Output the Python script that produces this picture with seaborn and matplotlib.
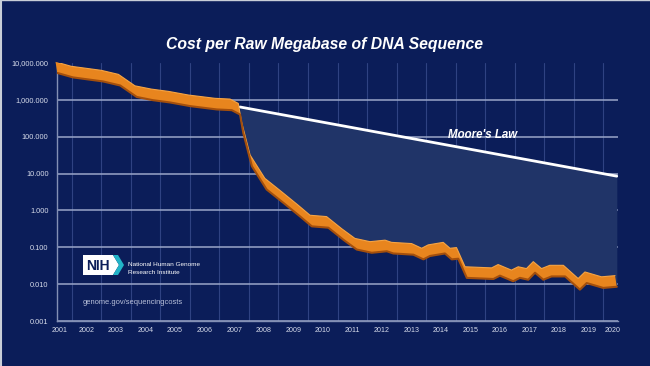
import numpy as np
import matplotlib
matplotlib.use('Agg')
import seaborn as sns
from matplotlib import pyplot as plt
from matplotlib.lines import Line2D
from matplotlib.patches import Polygon

years = [2001.51, 2002.04, 2003.06, 2003.64, 2004.20, 2004.75, 2005.33, 2006.01,
         2006.91, 2007.42, 2007.70, 2007.81, 2008.10, 2008.60, 2009.17, 2009.73,
         2010.13, 2010.69, 2011.20, 2011.65, 2012.16, 2012.67, 2012.89, 2013.57,
         2013.91, 2014.13, 2014.64, 2014.87, 2015.09, 2015.38, 2016.28, 2016.50,
         2016.95, 2017.18, 2017.46, 2017.69, 2017.97, 2018.25, 2018.71, 2019.21,
         2019.44, 2020.00, 2020.46]
cost = [5370, 4070, 3160, 2455, 1200, 980, 850, 676,
        550, 525, 400, 126, 15.9, 3.7, 1.6, 0.69,
        0.37, 0.34, 0.16, 0.087, 0.071, 0.078, 0.068, 0.063,
        0.047, 0.058, 0.068, 0.047, 0.049, 0.0148, 0.0138, 0.017,
        0.012, 0.0148, 0.0132, 0.0204, 0.0132, 0.0162, 0.0162, 0.0071,
        0.0107, 0.0079, 0.0085]

moore_years = [2007.70, 2020.46]
moore_cost = [640, 8.5]

year_labels = [str(y) for y in range(2001, 2021)]
year_label_pos = [2001.6] + [y + 0.5 for y in range(2002, 2020)] + [2020.33]
year_bounds = list(range(2002, 2021))

y_ticks = [0.001, 0.01, 0.1, 1, 10, 100, 1000, 10000]
y_labels = ['0.001', '0.010', '0.100', '1.000', '10.000', '100.000',
            '1,000.000', '10,000.000']

bg = '#0b1d59'
shade = '#203468'
orange = '#e8851e'
orange_dark = '#a44f0c'
orange_light = '#f6a443'
label_col = '#d6dbea'

sns.set_theme(style='dark')
plt.rcParams['font.family'] = ['Liberation Sans', 'DejaVu Sans']

fig, ax = plt.subplots(figsize=(6.5, 3.66), dpi=100)
fig.patch.set_facecolor(bg)
ax.set_facecolor(bg)
ax.set_position([57 / 650, 1 - 321 / 366, 561 / 650, 258 / 366])

t = np.array(years)
c = np.array(cost)

# area between Moore's law and the actual cost
m = t >= moore_years[0]
moore_at_t = 10 ** np.interp(t[m], moore_years, np.log10(moore_cost))
ax.fill_between(t[m], c[m], moore_at_t, color=shade, lw=0, zorder=1.5)

sns.lineplot(x=moore_years, y=moore_cost, ax=ax, color='white', lw=2,
             zorder=2.5, legend=False)

# orange ribbon with a little depth
k = 2.0
dt = 0.06
ribbon = np.column_stack([np.concatenate([t, (t - dt)[::-1]]),
                          np.concatenate([c, (c * k)[::-1]])])
ax.add_patch(Polygon(ribbon, closed=True, facecolor=orange, edgecolor='none',
                     zorder=3, clip_on=False))
sns.lineplot(x=t - dt, y=c * k, ax=ax, color=orange_light, lw=0.8, zorder=3.2,
             legend=False, sort=False)
sns.lineplot(x=t, y=c, ax=ax, color=orange_dark, lw=1.5, zorder=3.3,
             legend=False, sort=False)

ax.set_yscale('log')
ax.set_ylim(0.001, 10000)
ax.set_xlim(2001.5, 2020.5)

ax.set_yticks(y_ticks)
ax.set_yticklabels(y_labels)
ax.yaxis.set_minor_locator(matplotlib.ticker.NullLocator())
ax.set_xticks(year_label_pos)
ax.set_xticklabels(year_labels)
ax.set_xticks(year_bounds, minor=True)

ax.set_axisbelow(True)
ax.yaxis.grid(True, color='#9aa6c8', lw=1.1)
ax.xaxis.grid(False, which='major')
ax.xaxis.grid(True, which='minor', color='#2f4282', lw=0.8)
ax.get_ygridlines()[-1].set_visible(False)

ax.tick_params(axis='y', length=0, pad=6, labelsize=5.3, labelcolor=label_col)
ax.tick_params(axis='x', which='both', length=0, pad=4, labelsize=5.1,
               labelcolor=label_col)
for side in ['top', 'right']:
    ax.spines[side].set_visible(False)
for side in ['left', 'bottom']:
    ax.spines[side].set_visible(True)
    ax.spines[side].set_color('#8390b5')
    ax.spines[side].set_linewidth(1)
ax.set_xlabel('')
ax.set_ylabel('')

ax.text(2015.9, 110, "Moore's Law", color='white', fontsize=8.3,
        fontweight='bold', fontstyle='italic', ha='center', va='center',
        zorder=4)

fig.text(0.5, 1 - 45 / 366, 'Cost per Raw Megabase of DNA Sequence',
         color='white', fontsize=11.3, fontweight='bold', fontstyle='italic',
         ha='center', va='center')

# NIH logo block
def px(x, y):
    return (x / 650, 1 - y / 366)

logo = Polygon([px(83, 255), px(113, 255), px(119, 265), px(113, 275), px(83, 275)],
               closed=True, facecolor='white', edgecolor='none',
               transform=fig.transFigure)
chevron = Polygon([px(113, 255), px(118, 255), px(124, 265), px(118, 275),
                   px(113, 275), px(119, 265)],
                  closed=True, facecolor='#22b4c8', edgecolor='none',
                  transform=fig.transFigure)
fig.add_artist(logo)
fig.add_artist(chevron)
fig.text(*px(98, 265.5), 'NIH', color=bg, fontsize=10, fontweight='bold',
         ha='center', va='center')
fig.text(*px(128, 264), 'National Human Genome', color='white', fontsize=4.6,
         ha='left', va='center')
fig.text(*px(128, 273), 'Research Institute', color='white', fontsize=4.6,
         ha='left', va='center')
fig.text(*px(83, 302), 'genome.gov/sequencingcosts', color='#b9c1da',
         fontsize=5.4, ha='left', va='center')

# thin light frame on the left and top edges of the slide
fig.add_artist(Line2D([0.0015, 0.0015], [0, 1], color='#c9ced8', lw=1.5,
                      transform=fig.transFigure))
fig.add_artist(Line2D([0, 1], [0.999, 0.999], color='#c9ced8', lw=1,
                      transform=fig.transFigure))

fig.savefig('out.png', dpi=100, facecolor=fig.get_facecolor())
